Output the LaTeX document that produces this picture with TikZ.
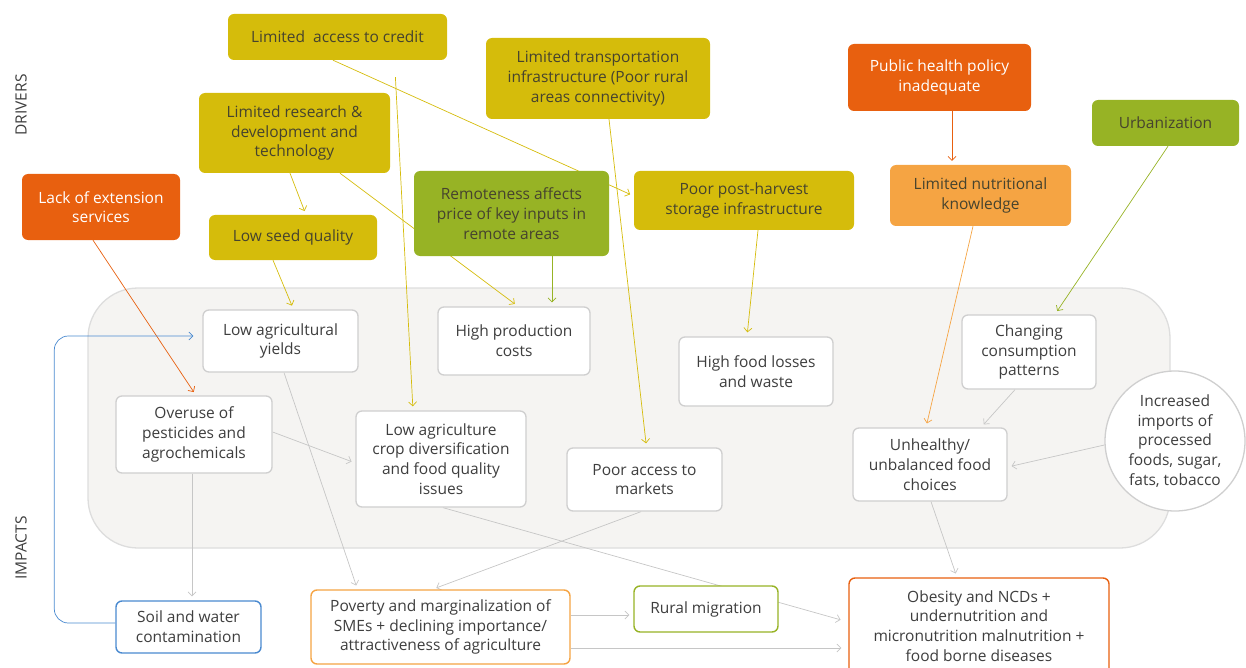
\documentclass[tikz,border=0pt]{standalone}
\usepackage{fontspec}
\setmainfont{Open Sans}
\usetikzlibrary{arrows.meta,positioning}
\definecolor{drvyellow}{HTML}{D5BC0B}
\definecolor{drvgreen}{HTML}{97B325}
\definecolor{drvorange}{HTML}{E8600F}
\definecolor{drvlight}{HTML}{F5A443}
\definecolor{boxgray}{HTML}{CFCFCF}
\definecolor{panelfill}{HTML}{F5F4F2}
\definecolor{panelline}{HTML}{DDDDDD}
\definecolor{linkgray}{HTML}{C6C6C6}
\definecolor{soilblue}{HTML}{4A8AD0}
\definecolor{txtdark}{HTML}{3E3E3E}
\definecolor{txtolive}{HTML}{46432E}
\pgfdeclarelayer{back}
\pgfdeclarelayer{links}
\pgfsetlayers{back,links,main}
\tikzstyle{base} = [
	rounded corners=6pt,
	align=center,
	inner sep=0pt,
	font=\fontsize{15.5}{19.7}\selectfont
]
\tikzstyle{driver} = [base, text=txtolive]
\tikzstyle{impact} = [base, draw=boxgray, line width=1.3pt, fill=white, text=txtdark]
\tikzstyle{outcome} = [base, line width=1.4pt, fill=white, text=txtdark]
\tikzstyle{link} = [->, line width=0.7pt, shorten >=4pt]

\begin{document}
\begin{tikzpicture}[x=1pt, y=-1pt, >={Straight Barb[length=4pt,width=8pt]}]
	\useasboundingbox (0,0) rectangle (1246,668);

	% side labels
	\node[rotate=90, font=\fontsize{15.5}{18}\selectfont, text=txtdark, name = drvlabel] at (21,105) {DRIVERS};
	\node[rotate=90, font=\fontsize{15.5}{18}\selectfont, text=txtdark, name = implabel] at (21,548) {IMPACTS};

	% drivers
	\node[driver, fill=drvyellow, minimum width=219pt, minimum height=46pt, name = credit] at (337.5,37) {Limited\ \ access to credit};
	\node[driver, fill=drvyellow, minimum width=191pt, minimum height=80pt, name = research] at (294.5,133) {Limited research \&\\development and\\technology};
	\node[driver, fill=drvorange, text=white, minimum width=158pt, minimum height=66pt, name = extension] at (101,207) {Lack of extension\\services};
	\node[driver, fill=drvyellow, minimum width=168pt, minimum height=45pt, name = seed] at (293,237.5) {Low seed quality};
	\node[driver, fill=drvyellow, minimum width=224pt, minimum height=81pt, name = transport] at (598,78.5) {Limited transportation\\infrastructure (Poor rural\\areas connectivity)};
	\node[driver, fill=drvgreen, minimum width=195pt, minimum height=85pt, name = remote] at (511.5,213.5) {Remoteness affects\\price of key inputs in\\remote areas};
	\node[driver, fill=drvyellow, minimum width=220pt, minimum height=59pt, name = storage] at (744,200.5) {Poor post-harvest\\storage infrastructure};
	\node[driver, fill=drvorange, text=white, minimum width=183pt, minimum height=67pt, name = policy] at (939.5,77.5) {Public health policy\\inadequate};
	\node[driver, fill=drvlight, minimum width=181pt, minimum height=61pt, name = nutrition] at (980.5,195.5) {Limited nutritional\\knowledge};
	\node[driver, fill=drvgreen, minimum width=147pt, minimum height=46pt, name = urban] at (1165.5,123) {Urbanization};

	% impacts panel
	\begin{pgfonlayer}{back}
		\draw[panelline, fill=panelfill, line width=1.3pt, rounded corners=50pt] (88,288) rectangle (1170,548);
	\end{pgfonlayer}

	\node[impact, minimum width=155pt, minimum height=62pt, name = yields] at (280.5,341) {Low agricultural\\yields};
	\node[impact, minimum width=152pt, minimum height=68pt, name = costs] at (514,341) {High production\\costs};
	\node[impact, minimum width=154pt, minimum height=69pt, name = losses] at (756,371.5) {High food losses\\and waste};
	\node[impact, minimum width=156pt, minimum height=77pt, name = overuse] at (194,434.5) {Overuse of\\pesticides and\\agrochemicals};
	\node[impact, minimum width=170pt, minimum height=96pt, name = diversity] at (441,459) {Low agriculture\\crop diversification\\and food quality\\issues};
	\node[impact, minimum width=155pt, minimum height=63pt, name = markets] at (644.5,479.5) {Poor access to\\markets};
	\node[impact, minimum width=134pt, minimum height=74pt, name = consumption] at (1029,352) {Changing\\consumption\\patterns};
	\node[impact, minimum width=154pt, minimum height=73pt, name = choices] at (930,464.5) {Unhealthy/\\unbalanced food\\choices};
	\node[impact, circle, minimum size=140pt, name = imports] at (1175,441) {Increased\\imports of\\processed\\foods, sugar,\\fats, tobacco};

	% outcomes
	\node[outcome, draw=soilblue, minimum width=145pt, minimum height=52pt, name = soil] at (188.5,627) {Soil and water\\contamination};
	\node[outcome, draw=drvlight, minimum width=259pt, minimum height=74pt, name = poverty] at (440.5,627) {Poverty and marginalization of\\SMEs + declining importance/\\attractiveness of agriculture};
	\node[outcome, draw=drvgreen, minimum width=144pt, minimum height=46pt, name = migration] at (706,609) {Rural migration};
	\node[outcome, draw=drvorange, minimum width=260pt, minimum height=96pt, name = obesity] at (979,626) {Obesity and NCDs +\\undernutrition and\\micronutrition malnutrition +\\food borne diseases};

	\begin{pgfonlayer}{links}
	% drivers to impacts
	\draw[link, drvyellow] ([xshift=-4.5pt]credit.south) -- ([yshift=4.5pt]storage.west);
	\draw[link, drvyellow, shorten <=17pt] ([xshift=57pt]credit.south) -- ([xshift=-28pt]diversity.north);
	\draw[link, drvyellow] ([xshift=-4.5pt]research.south) -- ([xshift=13pt]seed.north);
	\draw[link, drvyellow] ([xshift=45.5pt]research.south) -- ([xshift=4pt]costs.north);
	\draw[link, drvgreen] ([xshift=40.5pt]remote.south) -- ([xshift=38pt]costs.north);
	\draw[link, drvyellow] ([xshift=11pt]transport.south) -- ([xshift=2pt]markets.north);
	\draw[link, drvyellow] ([xshift=14pt]storage.south) -- ([xshift=-9pt]losses.north);
	\draw[link, drvyellow] ([xshift=-20pt]seed.south) -- ([xshift=13pt]yields.north);
	\draw[link, drvorange] ([xshift=-8pt]extension.south) -- ([xshift=2pt]overuse.north);
	\draw[link, drvorange] ([xshift=12.5pt]policy.south) -- ([xshift=-28.5pt]nutrition.north);
	\draw[link, drvlight] ([xshift=-7.5pt]nutrition.south) -- ([xshift=-4pt]choices.north);
	\draw[link, drvgreen] ([xshift=2.5pt]urban.south) -- ([xshift=26pt]consumption.north);

	% impacts to outcomes
	\draw[link, linkgray] ([xshift=-14pt]consumption.south) -- ([xshift=51pt]choices.north);
	\draw[link, linkgray] ([yshift=-4pt]imports.west) -- ([yshift=-2.5pt]choices.east);
	\draw[link, linkgray] ([xshift=1pt]choices.south) -- ([xshift=-22pt]obesity.north);
	\draw[link, linkgray] ([yshift=2.5pt]overuse.east) -- ([yshift=-4pt]diversity.west);
	\draw[link, linkgray] ([xshift=-2pt]overuse.south) -- ([xshift=3.5pt]soil.north);
	\draw[link, linkgray] ([xshift=3.5pt]yields.south) -- ([xshift=-83pt]poverty.north);
	\draw[link, linkgray] ([xshift=-3.5pt]markets.south) -- ([xshift=-8pt]poverty.north);
	\draw[link, linkgray, shorten >=8pt] ([xshift=2pt]diversity.south) -- ([yshift=4pt]obesity.west);
	\draw[link, linkgray] ([yshift=12pt]poverty.east) -- ([yshift=-6pt]migration.west);
	\draw[link, linkgray, shorten >=7pt] ([yshift=-21pt]poverty.east) -- ([yshift=-22pt]obesity.west);
	\draw[link, soilblue, rounded corners=14pt, shorten >=9pt] ([yshift=4pt]soil.west) -- ++(-61,0) |- ([yshift=5pt]yields.west);
	\end{pgfonlayer}
\end{tikzpicture}
\end{document}
